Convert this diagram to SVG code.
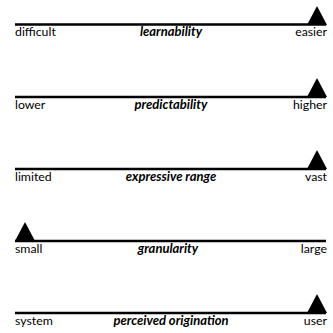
<svg xmlns="http://www.w3.org/2000/svg" width="333" height="333" viewBox="0 0 333 333">
<style>
.axis{stroke:#000;stroke-width:2.4;fill:none}
.tri{fill:#000}
text{font-family:Lato,"Open Sans","Liberation Sans",sans-serif;font-size:12.3px;fill:#000}
.l{text-anchor:start}
.r{text-anchor:end}
.c{text-anchor:middle;font-weight:bold;font-style:italic;font-size:13px}
</style>
<rect width="333" height="333" fill="#fff"/>
<g id="connectors">
<line class="axis" x1="15" y1="24.5" x2="326" y2="24.5"/>
<line class="axis" x1="15" y1="97" x2="326" y2="97"/>
<line class="axis" x1="15" y1="169" x2="326" y2="169"/>
<line class="axis" x1="15" y1="241" x2="326" y2="241"/>
<line class="axis" x1="15" y1="313" x2="326" y2="313"/>
</g>
<g id="learnability">
<polygon class="tri" points="307,25 317,6 327,25"/>
<text class="l" x="15" y="36">difficult</text>
<text class="c" x="171" y="36">learnability</text>
<text class="r" x="327" y="36">easier</text>
</g>
<g id="predictability">
<polygon class="tri" points="307,97 317,78 327,97"/>
<text class="l" x="15" y="108.5">lower</text>
<text class="c" x="171" y="108.5">predictability</text>
<text class="r" x="327" y="108.5">higher</text>
</g>
<g id="expressive-range">
<polygon class="tri" points="307,169 317,150 327,169"/>
<text class="l" x="15" y="180.5">limited</text>
<text class="c" x="171" y="180.5">expressive range</text>
<text class="r" x="327" y="180.5">vast</text>
</g>
<g id="granularity">
<polygon class="tri" points="15,241 25,222 35,241"/>
<text class="l" x="15" y="252.5">small</text>
<text class="c" x="168" y="252.5">granularity</text>
<text class="r" x="327" y="252.5">large</text>
</g>
<g id="perceived-origination">
<polygon class="tri" points="307,313 317,294 327,313"/>
<text class="l" x="15" y="324.5">system</text>
<text class="c" x="171" y="324.5">perceived origination</text>
<text class="r" x="327" y="324.5">user</text>
</g>
</svg>
